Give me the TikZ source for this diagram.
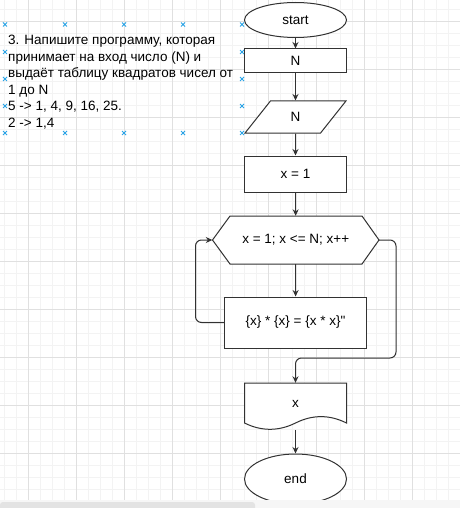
\documentclass[tikz,border=0pt]{standalone}
\usepackage{fontspec}
\setmainfont{Liberation Sans}
\usetikzlibrary{shapes.geometric,arrows.meta}
\definecolor{gridmajor}{RGB}{224,224,224}
\definecolor{gridminor}{RGB}{243,243,243}
\definecolor{hoverblue}{RGB}{41,163,230}
\definecolor{linegray}{RGB}{50,50,50}

\tikzset{
  block/.style={draw=linegray, line width=1pt, fill=white, minimum width=102pt, inner sep=0pt},
  term/.style={block, ellipse},
  hidden/.style={inner sep=0pt},
  flow/.style={draw=linegray, line width=1pt, -{Stealth[length=6.5pt,width=6pt]}},
  marker/.style={draw=hoverblue, line width=0.8pt},
}

\begin{document}
\begin{tikzpicture}[x=1pt,y=-1pt,font=\fontsize{13.5}{16.5}\selectfont]
\useasboundingbox (0,0) rectangle (460,508);
\fill[white] (0,0) rectangle (460,508);
% grid of the page
\foreach \x in {4.3,16.3,...,460} \draw[gridminor,line width=0.8pt] (\x,0) -- (\x,500);
\foreach \y in {9.5,21.5,...,500} \draw[gridminor,line width=0.8pt] (0,\y) -- (460,\y);
\foreach \x in {28.3,76.3,...,460} \draw[gridmajor,line width=0.8pt] (\x,0) -- (\x,500);
\foreach \y in {21.5,69.5,...,500} \draw[gridmajor,line width=0.8pt] (0,\y) -- (460,\y);

% task text with its hover marks
\node[anchor=north west, align=left, inner sep=0pt] (task) at (8,35.3)
  {3. Напишите программу, которая\\принимает на вход число (N) и\\выдаёт таблицу квадратов чисел от\\1 до N\\5 -> 1, 4, 9, 16, 25.\\2 -> 1,4};
\foreach \p in {(5,24.5),(65,24.5),(124,24.5),(183,24.5),(242,24.5),
                (5,133),(65,133),(124,133),(183,133),(242,133),
                (5,52),(5,79),(5,106),(242,52),(242,79),(242,106)}
  \draw[marker,shift={\p}] (-2,-2) -- (2,2) (-2,2) -- (2,-2);

% flowchart
\node[term, minimum height=35pt] (start) at (295.5,20) {start};
\node[block, minimum height=24pt] (inN) at (295.5,61) {N};
\node[block, trapezium, trapezium left angle=62, trapezium right angle=118,
      trapezium stretches=true, minimum width=101pt, minimum height=32pt] (readN) at (295.5,117) {N};
\node[block, minimum height=36pt] (setx) at (295.5,174) {x = 1};
\draw[linegray, line width=1pt, fill=white] (212.5,240) -- (230,216) -- (362,216) -- (379,240)
  -- (362,264) -- (230,264) -- cycle; % loop hexagon
\node[hidden, minimum width=166.5pt, minimum height=48pt] (loop) at (295.75,240) {x = 1; x <= N; x++};
\node[block, minimum width=142pt, minimum height=51pt] (body) at (295.5,322.5) {\{x\} * \{x\} = \{x * x\}\textquotedbl};
\draw[linegray, line width=1pt, fill=white] (244.5,383) -- (346.5,383) -- (346.5,423)
  .. controls (329.5,414.5) and (312.5,414.5) .. (295.5,423)
  .. controls (278.5,431.4) and (261.5,431.4) .. (244.5,423) -- cycle; % document
\node[hidden, minimum width=102pt, minimum height=47pt] (out) at (295.5,406.5) {\raisebox{5.5pt}{x}};
\node[term, minimum height=50pt] (stop) at (295.5,479) {end};

\draw[flow] (start) -- (inN);
\draw[flow] (inN) -- (readN);
\draw[flow] (readN) -- (setx);
\draw[flow] (setx) -- (loop);
\draw[flow] (loop) -- (body);
\draw[flow, rounded corners=6pt] (body.west) -- ++(-28.5,0) |- (loop.west);
\coordinate (exitturn) at (396,358);
\draw[flow, rounded corners=6pt] (loop.east) -| (exitturn) -| (out.north);
\draw[flow] (out) -- (stop);

% scroll bar
\fill[gray!7] (0,500) rectangle (460,508);
\fill[gray!22, rounded corners=3pt] (0,502) rectangle (255,512);
\end{tikzpicture}
\end{document}
